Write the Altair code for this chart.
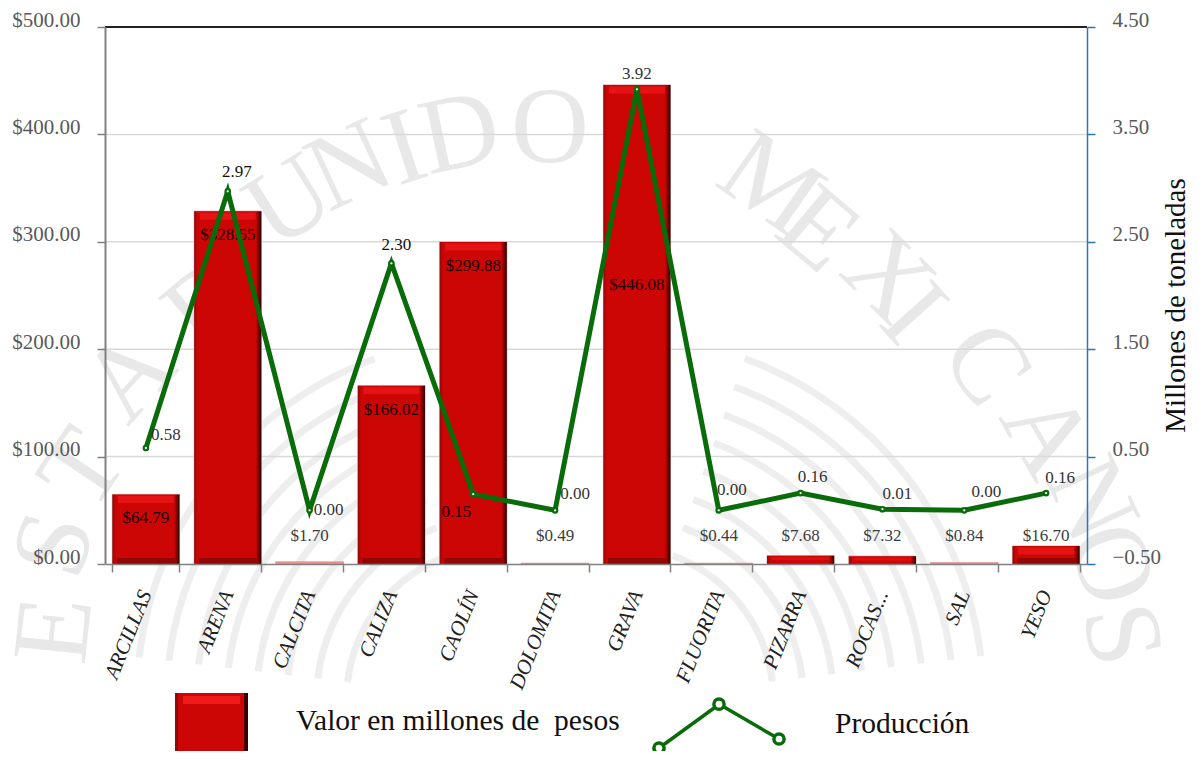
import altair as alt
import pandas as pd

minerales = ["ARCILLAS", "ARENA", "CALCITA", "CALIZA", "CAOLÍN", "DOLOMITA", "GRAVA",
             "FLUORITA", "PIZARRA", "ROCAS...", "SAL", "YESO"]
valor = [64.79, 328.55, 1.70, 166.02, 299.88, 0.49, 446.08, 0.44, 7.68, 7.32, 0.84, 16.70]
produccion = [0.58, 2.97, 0.00, 2.30, 0.15, 0.00, 3.92, 0.00, 0.16, 0.01, 0.00, 0.16]
marcas_valor = [0, 100, 200, 300, 400, 500]
marcas_prod = [-0.5, 0.5, 1.5, 2.5, 3.5, 4.5]
etiqueta_valor = "Valor en millones de\u00a0 pesos"
etiqueta_prod = "Producción"

df = pd.DataFrame({"mineral": minerales, "valor": valor, "produccion": produccion,
                   "v": etiqueta_valor, "p": etiqueta_prod})
df_marcas = pd.DataFrame({"valor": marcas_valor[1:-1]})

SERIF = "Liberation Serif"
W, H = 982, 537
L, T = 105, 27
base = alt.Chart(df)

x_enc = alt.X("mineral:N", sort=minerales, title=None,
              scale=alt.Scale(domain=minerales, paddingInner=0.18, paddingOuter=0.09),
              axis=alt.Axis(labelAngle=-68, labelAlign="right", labelBaseline="middle",
                            labelFont=SERIF, labelFontSize=21, labelFontStyle="italic",
                            labelColor="#222222", labelPadding=19, labelOverlap=False,
                            labelLimit=200, tickBand="extent", tickSize=8, tickColor="#808080",
                            tickWidth=1.5, domainColor="#808080", domainWidth=1.5, grid=False,
                            zindex=1))
y_val = alt.Y("valor:Q", title=None, scale=alt.Scale(domain=[0, 500], nice=False),
              axis=alt.Axis(values=marcas_valor, format="$.2f",
                            labelFont=SERIF, labelFontSize=21, labelColor="#595959",
                            labelPadding=17, labelOffset=-7, tickSize=8, tickColor="#808080",
                            tickWidth=1.5, domainColor="#808080", domainWidth=2,
                            grid=False, zindex=1))
y_prod = alt.Y("produccion:Q", scale=alt.Scale(domain=[-0.5, 4.5], nice=False),
               axis=alt.Axis(orient="right", values=marcas_prod, format=".2f",
                             labelFont=SERIF, labelFontSize=21, labelColor="#595959",
                             labelPadding=17, labelOffset=-7, tickSize=8, tickColor="#2e75b6",
                             tickWidth=1.5, domainColor="#2e75b6", domainWidth=1.5, grid=False,
                             title="Millones de toneladas", titleFont=SERIF, titleFontSize=29,
                             titleFontWeight="normal", titleColor="#111111", titleAngle=270,
                             titleBaseline="middle", titleX=88, titleY=278, zindex=1))


# ---------- watermark (background seal) ----------
def letter(ch, x, y, rot):
    return alt.Chart(df.head(1)).mark_text(
        text=ch, font=SERIF, fontSize=108, color="#e8e8e8", angle=rot % 360,
        align="center", baseline="middle", clip=False
    ).encode(x=alt.value(x - L), y=alt.value(y - T))


sello = [letter(*a) for a in [
    ("E", 56, 630, -84), ("S", 56, 545, -74), ("T", 84, 470, -56), ("A", 130, 377, -48),
    ("D", 210, 305, -40), ("U", 290, 203, -32), ("N", 350, 167, -25), ("I", 405, 150, -18),
    ("D", 460, 135, -12), ("O", 550, 130, 0), ("S", 645, 155, 10), ("M", 770, 185, 35),
    ("E", 817, 231, 40), ("X", 887, 278, 45), ("I", 912, 315, 48), ("C", 985, 365, 55),
    ("A", 1045, 435, 60), ("N", 1090, 500, 65), ("O", 1110, 565, 72), ("S", 1120, 635, 78),
]]


def pluma(cx, cy, r, t0, t1, w=7):
    return alt.Chart(df.head(1)).mark_arc(
        theta=t0, theta2=t1, radius=r, radius2=r + w, color="#eeeeee", clip=False
    ).encode(x=alt.value(cx - L), y=alt.value(cy - T))


plumas = []
for i in range(8):
    r = 150 + i * 30
    plumas.append(pluma(620, 700, r, 0.35, 1.45))
    plumas.append(pluma(500, 700, r, 4.83, 5.93))

# ---------- grid, bars ----------
rejilla = alt.Chart(df_marcas).mark_rule(color="#d9d9d9", strokeWidth=1.5).encode(y=y_val)

bar_base = base.mark_bar(stroke="#cfa8a8", strokeWidth=1).encode(
    x=x_enc, y=y_val,
    color=alt.Color("v:N", scale=alt.Scale(domain=[etiqueta_valor], range=["#cc0505"]),
                    legend=alt.Legend(title=None, orient="none", legendX=70, legendY=666,
                                      symbolType="square", symbolSize=5300, symbolStrokeWidth=0,
                                      symbolOpacity=0,
                                      labelFont=SERIF, labelFontSize=29.5, labelColor="#111111",
                                      labelBaseline="alphabetic", labelOffset=48, labelLimit=400)))
bar_bevel = base.transform_filter("datum.valor >= 5").mark_bar(
    color={"gradient": "linear", "x1": 0, "x2": 1, "y1": 0, "y2": 0,
           "stops": [{"offset": 0, "color": "#8e0a0a"}, {"offset": 0.05, "color": "#cc0505"},
                     {"offset": 0.92, "color": "#cc0505"}, {"offset": 1, "color": "#2c0000"}]}
).encode(x=x_enc, y=y_val)
bar_top = base.transform_filter("datum.valor >= 15").mark_tick(
    color="#f01a1a", thickness=7, size=56, yOffset=5).encode(x=x_enc, y=y_val)
bar_top_s = base.transform_filter("datum.valor >= 5 && datum.valor < 15").mark_tick(
    color="#e81212", thickness=3, size=58, yOffset=3).encode(x=x_enc, y=y_val)
bar_low = base.transform_filter("datum.valor >= 15").mark_tick(
    color="#7a0707", thickness=6, size=58, yOffset=-3).encode(x=x_enc, y=alt.datum(0))
bar_tiny = base.transform_filter("datum.valor < 5").mark_bar(
    color="#ea8f8f", stroke="#ea8f8f", strokeWidth=1.5).encode(x=x_enc, y=y_val)


def etiqueta_bar(filtro, dy, color="#1a0000"):
    return base.transform_filter(filtro).mark_text(
        font=SERIF, fontSize=17, color=color, dy=dy, baseline="middle"
    ).encode(x=x_enc, y=y_val, text=alt.Text("valor:Q", format="$.2f"))


txt_bars = [
    etiqueta_bar("datum.valor >= 50 && datum.valor < 400", 24),
    etiqueta_bar("datum.valor >= 400", 200),
    base.transform_filter("datum.valor < 50").mark_text(
        font=SERIF, fontSize=17, color="#3c3c3c", baseline="middle"
    ).encode(x=x_enc, y=alt.datum(26), text=alt.Text("valor:Q", format="$.2f")),
]

tope = base.mark_rule(color="#222222", strokeWidth=1).encode(y=alt.datum(500))


# legend swatch, drawn so that it shows the bars' bevel
def muestra(x0, x1, y0, y1, color):
    return alt.Chart(df.head(1)).mark_rect(color=color).encode(
        x=alt.value(x0 - L), x2=alt.value(x1 - L), y=alt.value(y0 - T), y2=alt.value(y1 - T))


muestras = [muestra(175, 248, 693, 759, "#cc0505"), muestra(183, 240, 696, 704, "#f01a1a"),
            muestra(244, 248, 693, 759, "#3a0000"), muestra(175, 178, 693, 759, "#8e0a0a")]

barras = alt.layer(rejilla, bar_base, bar_bevel, bar_top, bar_top_s, bar_low, bar_tiny, *txt_bars,
                   tope, *muestras)

# ---------- line ----------
VERDE = "#0a6b0a"
simbolo = ("M-1.085,.25a.085,.085 0 1,0 .17,0a.085,.085 0 1,0 -.17,0"
           "M-.085,-.48a.085,.085 0 1,0 .17,0a.085,.085 0 1,0 -.17,0"
           "M.915,.1a.085,.085 0 1,0 .17,0a.085,.085 0 1,0 -.17,0"
           "M-.93,.2L-.07,-.425M.07,-.44L.93,.06")
linea = base.mark_line(strokeWidth=5).encode(
    x=x_enc, y=y_prod,
    stroke=alt.Stroke("p:N", scale=alt.Scale(domain=[etiqueta_prod], range=[VERDE]),
                      legend=alt.Legend(title=None, orient="none", legendX=552, legendY=644,
                                        symbolType=simbolo, symbolSize=14400, symbolStrokeWidth=3.5,
                                        symbolFillColor="transparent",
                                        labelFont=SERIF, labelFontSize=29.5, labelColor="#111111",
                                        labelBaseline="alphabetic", labelOffset=54, labelLimit=300)))
puntos = base.mark_point(shape="circle", filled=True, fill="white", stroke=VERDE, strokeWidth=2.2,
                         size=20, opacity=1).encode(x=x_enc, y=y_prod)


def etiqueta_linea(cat, dx, dy, color="#333333"):
    return base.transform_filter(alt.datum.mineral == cat).mark_text(
        font=SERIF, fontSize=17, color=color, dx=dx, dy=dy, baseline="middle"
    ).encode(x=x_enc, y=y_prod, text=alt.Text("produccion:Q", format=".2f"))


txt_linea = [etiqueta_linea(*a) for a in [
    ("ARCILLAS", 20, -13), ("ARENA", 9, -19, "#111111"), ("CALCITA", 19, 0), ("CALIZA", 5, -18, "#111111"),
    ("CAOLÍN", -17, 18, "#220000"), ("DOLOMITA", 20, -16), ("GRAVA", 0, -15), ("FLUORITA", 13, -20),
    ("PIZARRA", 12, -16), ("ROCAS...", 15, -15), ("SAL", 22, -18), ("YESO", 14, -15),
]]
lineas = alt.layer(linea, puntos, *txt_linea)

chart = alt.layer(*plumas, *sello, barras, lineas).resolve_scale(
    y="independent", color="independent", stroke="independent"
).properties(
    width=W, height=H, autosize="none",
    padding={"left": 97, "top": 19, "right": 104, "bottom": 187},
    background="white"
).configure_view(stroke=None)

chart.save("out.html", embed_options={"renderer": "svg", "actions": False})
